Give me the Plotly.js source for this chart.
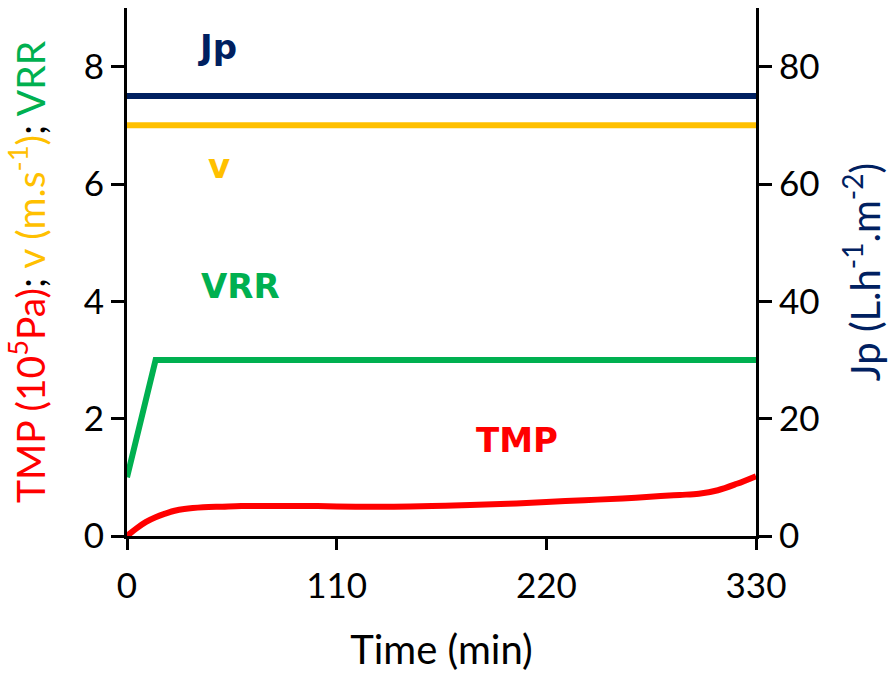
<!DOCTYPE html>
<html>
<head>
<meta charset="utf-8">
<script src="https://cdn.plot.ly/plotly-3.0.1.min.js"></script>
<style>html,body{margin:0;padding:0;background:#fff;}#chart{width:889px;height:673px;}</style>
</head>
<body>
<div id="chart"></div>
<script>
// Time axis (min)
const timeLine = [0, 330];
const jpValues = [75, 75];          // Jp (L.h-1.m-2), right axis
const vValues = [7, 7];             // v (m.s-1), left axis
const vrrTime = [0, 15, 330];
const vrrValues = [1, 3, 3];        // VRR, left axis
const tmpTime = [0, 5, 10, 15, 20, 25, 30, 40, 50, 60, 80, 100, 120, 140, 160, 180, 200, 220, 240, 260, 280, 290, 300, 310, 320, 330];
const tmpValues = [0, 0.13, 0.24, 0.32, 0.38, 0.43, 0.46, 0.49, 0.50, 0.51, 0.51, 0.51, 0.50, 0.50, 0.51, 0.53, 0.55, 0.58, 0.61, 0.64, 0.68, 0.70, 0.72, 0.78, 0.89, 1.02];
const xTicks = [0, 110, 220, 330];
const yTicks = [0, 2, 4, 6, 8];
const y2Ticks = [0, 20, 40, 60, 80];
const labelText = ['Jp', 'v', 'VRR', 'TMP'];
const labelX = [47.7, 48.5, 59.3, 204.6];
const labelY = [8.34, 6.3, 4.26, 1.63];

const colors = {jp: '#002060', v: '#FFC000', vrr: '#00B050', tmp: '#FF0000'};
const FONT = 'Lato, "Open Sans", sans-serif';
const LABEL_FONT = '"DejaVu Sans", "Open Sans", sans-serif';

const traces = [
  {x: timeLine, y: jpValues, yaxis: 'y2', mode: 'lines', line: {color: colors.jp, width: 6}, name: 'Jp'},
  {x: timeLine, y: vValues, mode: 'lines', line: {color: colors.v, width: 6}, name: 'v'},
  {x: vrrTime, y: vrrValues, mode: 'lines', line: {color: colors.vrr, width: 6}, name: 'VRR'},
  {x: tmpTime, y: tmpValues, mode: 'lines', line: {color: colors.tmp, width: 6, shape: 'spline'}, name: 'TMP'}
];

const labelColors = [colors.jp, colors.v, colors.vrr, colors.tmp];
const annotations = labelText.map((t, i) => ({
  x: labelX[i], y: labelY[i], xref: 'x', yref: 'y', text: '<b>' + t + '</b>', showarrow: false,
  font: {family: LABEL_FONT, size: 34, color: labelColors[i]}, xanchor: 'center', yanchor: 'middle'
}));

const axisCommon = {
  showline: true, linecolor: '#000', linewidth: 3, ticks: 'outside', tickcolor: '#000', tickwidth: 3,
  ticklen: 13, showgrid: false, zeroline: false, tickfont: {family: FONT, size: 35, color: '#000'}, fixedrange: true
};

const layout = {
  width: 889, height: 673,
  margin: {l: 127, r: 133, t: 8, b: 137, pad: 0},
  paper_bgcolor: '#fff', plot_bgcolor: '#fff',
  showlegend: false,
  xaxis: Object.assign({}, axisCommon, {
    range: [0, 330], tickvals: xTicks, ticklen: 11, ticklabelstandoff: 6,
    title: {text: 'Time (min)', font: {family: FONT, size: 40, color: '#000'}, standoff: 34}
  }),
  yaxis: Object.assign({}, axisCommon, {
    range: [0, 9], tickvals: yTicks,
    title: {text: '<span style="color:#FF0000">TMP (10<sup>5</sup>Pa)</span><span style="color:#000">; </span><span style="color:#FFC000">v (m.s<sup>-1</sup>)</span><span style="color:#000">; </span><span style="color:#00B050">VRR</span>',
      font: {family: FONT, size: 39, color: '#000'}, standoff: 27}
  }),
  yaxis2: Object.assign({}, axisCommon, {
    range: [0, 90], tickvals: y2Ticks, overlaying: 'y', side: 'right',
    title: {text: 'Jp (L.h<sup>-1</sup>.m<sup>-2</sup>)', font: {family: FONT, size: 40, color: colors.jp}, standoff: 35}
  }),
  annotations: annotations
};

Plotly.newPlot('chart', traces, layout, {displayModeBar: false, staticPlot: true});
</script>
</body>
</html>
